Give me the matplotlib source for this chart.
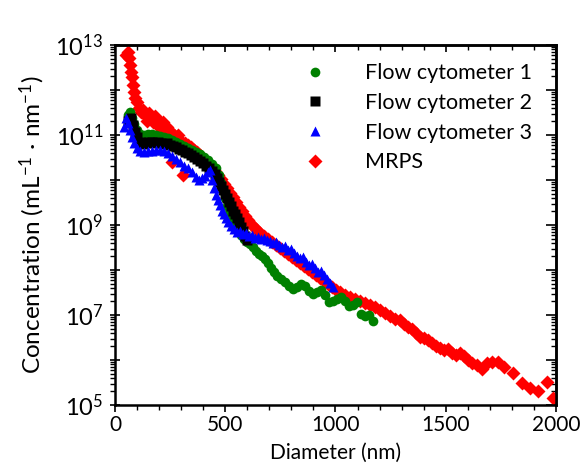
import numpy as np
import matplotlib
matplotlib.use("Agg")
import matplotlib.pyplot as plt
from matplotlib.ticker import MultipleLocator, LogLocator, FuncFormatter, NullFormatter
from matplotlib.lines import Line2D

# MRPS
mrps_d = [50, 59, 64, 68, 73, 77, 82, 86, 91, 100, 109, 118, 127, 136, 145, 154, 163, 172,
          181, 190, 200, 209, 218, 227, 236, 249, 258, 268, 277, 286, 295, 308, 317, 331,
          345, 358, 372, 385, 399, 413, 426, 440, 454, 467, 481, 494, 508, 522, 535, 549,
          562, 576, 590, 603, 617, 630, 644, 658, 676, 694, 712, 730, 748, 766, 785, 803,
          821, 839, 857, 875, 893, 912, 930, 948, 966, 984, 1002, 1020, 1043, 1066, 1088,
          1111, 1134, 1156, 1179, 1202, 1224, 1247, 1270, 1293, 1311, 1329, 1347, 1365,
          1383, 1401, 1419, 1438, 1456, 1474, 1492, 1510, 1528, 1546, 1565, 1583, 1601,
          1619, 1642, 1664, 1687, 1710, 1737, 1764, 1805, 1846, 1882, 1918, 1959, 1986]
mrps_c = [6.0e12, 6.9e12, 5.1e12, 3.6e12, 2.5e12, 1.9e12, 1.3e12, 9.1e11, 6.6e11, 5.4e11,
          4.0e11, 3.2e11, 3.6e11, 2.8e11, 2.1e11, 3.1e11, 2.4e11, 1.9e11, 2.6e11, 1.7e11,
          2.1e11, 1.4e11, 1.9e11, 1.3e11, 1.5e11, 1.2e11, 2.5e10, 1.0e11, 8.5e10, 1.0e11,
          7.8e10, 1.3e10, 6.6e10, 6.0e10, 5.4e10, 4.7e10, 4.2e10, 3.6e10, 3.1e10, 2.6e10,
          2.3e10, 1.9e10, 1.6e10, 1.3e10, 1.05e10, 8.1e9, 6.6e9, 5.1e9, 4.2e9, 3.2e9,
          2.5e9, 2.0e9, 1.6e9, 1.3e9, 1.05e9, 9.1e8, 7.8e8, 6.6e8, 5.8e8, 4.9e8, 4.2e8,
          3.6e8, 3.1e8, 2.6e8, 2.3e8, 1.95e8, 1.66e8, 1.45e8, 1.23e8, 1.05e8, 9.1e7,
          7.8e7, 6.6e7, 5.8e7, 4.9e7, 4.2e7, 3.6e7, 3.2e7, 2.8e7, 2.5e7, 2.3e7, 2.0e7,
          1.86e7, 1.66e7, 1.5e7, 1.3e7, 1.1e7, 9.5e6, 8.1e6, 7.8e6, 6.3e6, 5.4e6, 4.9e6,
          4.0e6, 3.2e6, 3.1e6, 2.75e6, 2.4e6, 2.0e6, 1.86e6, 1.66e6, 1.74e6, 1.45e6,
          1.3e6, 1.45e6, 1.23e6, 1.0e6, 8.5e5, 7.8e5, 6.2e5, 8.5e5, 9.1e5, 8.9e5,
          6.9e5, 5.1e5, 3.1e5, 2.4e5, 2.1e5, 3.2e5, 1.45e5]

# Flow cytometer 1
fc1_d = [59, 68, 77, 86, 100, 113, 132, 150, 168, 186, 204, 222, 240, 258, 277, 295, 313,
         331, 349, 367, 385, 404, 422, 440, 458, 472, 481, 490, 499, 508, 517, 531, 544,
         558, 571, 585, 599, 612, 626, 639, 653, 667, 680, 694, 707, 721, 735, 753, 771,
         789, 807, 825, 843, 862, 880, 898, 916, 934, 952, 970, 989, 1007, 1025, 1043,
         1061, 1079, 1097, 1116, 1134, 1152, 1170]
fc1_c = [2.75e11, 3.2e11, 2.4e11, 1.74e11, 1.3e11, 1.05e11, 1.0e11, 1.05e11, 1.05e11,
         1.0e11, 9.5e10, 9.1e10, 8.5e10, 7.8e10, 6.9e10, 6.3e10, 5.8e10, 5.1e10, 4.7e10,
         4.2e10, 3.8e10, 3.2e10, 2.75e10, 2.3e10, 1.86e10, 1.3e10, 8.5e9, 6.0e9, 4.0e9,
         2.6e9, 1.86e9, 1.3e9, 9.5e8, 7.4e8, 6.0e8, 4.9e8, 4.2e8, 3.8e8, 3.2e8, 2.6e8,
         2.3e8, 2.0e8, 1.74e8, 1.45e8, 1.1e8, 9.1e7, 7.4e7, 6.3e7, 5.4e7, 4.4e7, 3.8e7,
         4.2e7, 4.9e7, 4.4e7, 3.4e7, 3.0e7, 3.2e7, 3.6e7, 2.75e7, 1.95e7, 2.0e7, 2.3e7,
         2.5e7, 2.1e7, 1.6e7, 1.66e7, 1.95e7, 1.05e7, 9.5e6, 1.0e7, 7.4e6]

# Flow cytometer 2
fc2_d = [59, 73, 82, 91, 100, 113, 127, 141, 154, 168, 181, 195, 209, 222, 236, 249, 263,
         277, 290, 304, 317, 331, 345, 358, 372, 385, 399, 413, 426, 440, 454, 463, 472,
         481, 490, 499, 508, 517, 526, 535, 544, 553, 562, 571, 581, 590, 599]
fc2_c = [2.1e11, 2.4e11, 1.66e11, 1.17e11, 9.1e10, 6.9e10, 6.3e10, 6.6e10, 6.9e10, 6.9e10,
         6.6e10, 6.9e10, 6.6e10, 6.3e10, 6.6e10, 6.0e10, 5.8e10, 5.4e10, 4.9e10, 4.7e10,
         4.2e10, 4.0e10, 3.6e10, 3.2e10, 3.0e10, 2.6e10, 2.4e10, 2.1e10, 1.86e10, 1.6e10,
         1.35e10, 1.1e10, 9.1e9, 7.4e9, 6.0e9, 4.9e9, 4.0e9, 3.2e9, 2.6e9, 2.1e9, 1.74e9,
         1.45e9, 1.17e9, 9.1e8, 7.4e8, 5.8e8, 4.7e8]

# Flow cytometer 3
fc3_d = [41, 50, 59, 68, 77, 86, 100, 113, 132, 150, 168, 186, 204, 222, 240, 258, 277,
         295, 313, 331, 349, 367, 381, 395, 408, 422, 431, 440, 449, 458, 467, 476, 485,
         494, 503, 513, 526, 540, 553, 567, 581, 594, 608, 621, 635, 648, 662, 676, 689,
         703, 717, 730, 744, 757, 771, 785, 798, 812, 825, 839, 853, 866, 880, 893, 907,
         921, 934, 948, 962, 975, 989]
fc3_c = [1.5e11, 2.4e11, 1.86e11, 1.3e11, 9.1e10, 6.6e10, 5.1e10, 4.4e10, 4.2e10, 4.4e10,
         4.4e10, 4.7e10, 4.7e10, 4.4e10, 4.0e10, 3.4e10, 3.0e10, 2.5e10, 2.1e10, 1.86e10,
         1.5e10, 1.17e10, 1.0e10, 1.1e10, 1.23e10, 1.5e10, 1.66e10, 1.0e10, 6.6e9, 4.7e9,
         3.6e9, 2.75e9, 2.1e9, 1.74e9, 1.45e9, 1.17e9, 9.5e8, 8.1e8, 6.9e8, 7.4e8, 6.3e8,
         6.6e8, 5.8e8, 6.0e8, 5.1e8, 5.4e8, 4.9e8, 5.1e8, 4.7e8, 4.4e8, 4.0e8, 4.2e8,
         3.6e8, 3.2e8, 3.4e8, 2.75e8, 2.95e8, 2.4e8, 2.0e8, 1.86e8, 1.95e8, 1.5e8, 1.3e8,
         1.35e8, 1.1e8, 9.1e7, 9.5e7, 7.8e7, 6.3e7, 5.1e7, 4.2e7]

plt.rcParams['font.family'] = ['Lato', 'DejaVu Sans']
plt.rcParams['mathtext.default'] = 'regular'

fig = plt.figure(figsize=(5.85, 4.68), dpi=100)
ax = fig.add_axes([0.1966, 0.1346, 0.7538, 0.7692])

ax.plot(mrps_d, mrps_c, 'D', color='#ff0000', ms=7.5, mec='none', zorder=2)
ax.plot(fc1_d, fc1_c, 'o', color='#008000', ms=7, mec='none', zorder=3)
ax.plot(fc2_d, fc2_c, 's', color='black', ms=6.5, mec='none', zorder=4)
ax.plot(fc3_d, fc3_c, '^', color='#0000ff', ms=7.5, mec='none', zorder=5)

ax.set_yscale('log')
ax.set_xlim(0, 2000)
ax.set_ylim(1e5, 1e13)

ax.xaxis.set_major_locator(MultipleLocator(500))
ax.xaxis.set_minor_locator(MultipleLocator(100))
ax.yaxis.set_major_locator(LogLocator(base=10, numticks=20))
ax.yaxis.set_minor_locator(LogLocator(base=10, subs=np.arange(2, 10), numticks=20))
ax.yaxis.set_minor_formatter(NullFormatter())


def ylab(v, pos):
    e = int(round(np.log10(v)))
    return r'$10^{%d}$' % e if e % 2 == 1 else ''


ax.yaxis.set_major_formatter(FuncFormatter(ylab))
ax.tick_params(axis='x', which='major', direction='out', length=5, width=1.2, labelsize=15, pad=2)
ax.tick_params(axis='x', which='minor', direction='out', length=3.5, width=1)
ax.tick_params(axis='y', which='major', direction='inout', length=7, width=1.2, labelsize=17, pad=5)
ax.tick_params(axis='y', which='minor', direction='out', length=3.5, width=1)

top = ax.secondary_xaxis('top')
top.xaxis.set_major_locator(MultipleLocator(500))
top.xaxis.set_minor_locator(MultipleLocator(100))
top.tick_params(which='major', direction='in', length=5, width=1.2, labeltop=False)
top.tick_params(which='minor', direction='in', length=3.5, width=1)
right = ax.secondary_yaxis('right')
right.yaxis.set_major_locator(LogLocator(base=10, numticks=20))
right.yaxis.set_minor_locator(LogLocator(base=10, subs=np.arange(2, 10), numticks=20))
right.tick_params(which='major', direction='in', length=7, width=1.2, labelright=False)
right.tick_params(which='minor', direction='in', length=3.5, width=1, labelright=False)

for s in list(ax.spines.values()) + [top.spines['top'], right.spines['right']]:
    s.set_linewidth(1.8)

ax.set_xlabel('Diameter (nm)', fontsize=15, labelpad=6)
ax.set_ylabel('Concentration (mL$^{-1}$ · nm$^{-1}$)', fontsize=17.5, labelpad=6)

handles = [Line2D([], [], ls='none', marker='o', color='#008000', ms=7, mec='none'),
           Line2D([], [], ls='none', marker='s', color='black', ms=6.5, mec='none'),
           Line2D([], [], ls='none', marker='^', color='#0000ff', ms=7, mec='none'),
           Line2D([], [], ls='none', marker='D', color='#ff0000', ms=7, mec='none')]
ax.legend(handles, ['Flow cytometer 1', 'Flow cytometer 2', 'Flow cytometer 3', 'MRPS'],
          loc='upper right', bbox_to_anchor=(0.975, 0.985), frameon=False, fontsize=15.5,
          handletextpad=1.3, labelspacing=0.45, borderaxespad=0.2)

fig.savefig('out.png', dpi=100)
